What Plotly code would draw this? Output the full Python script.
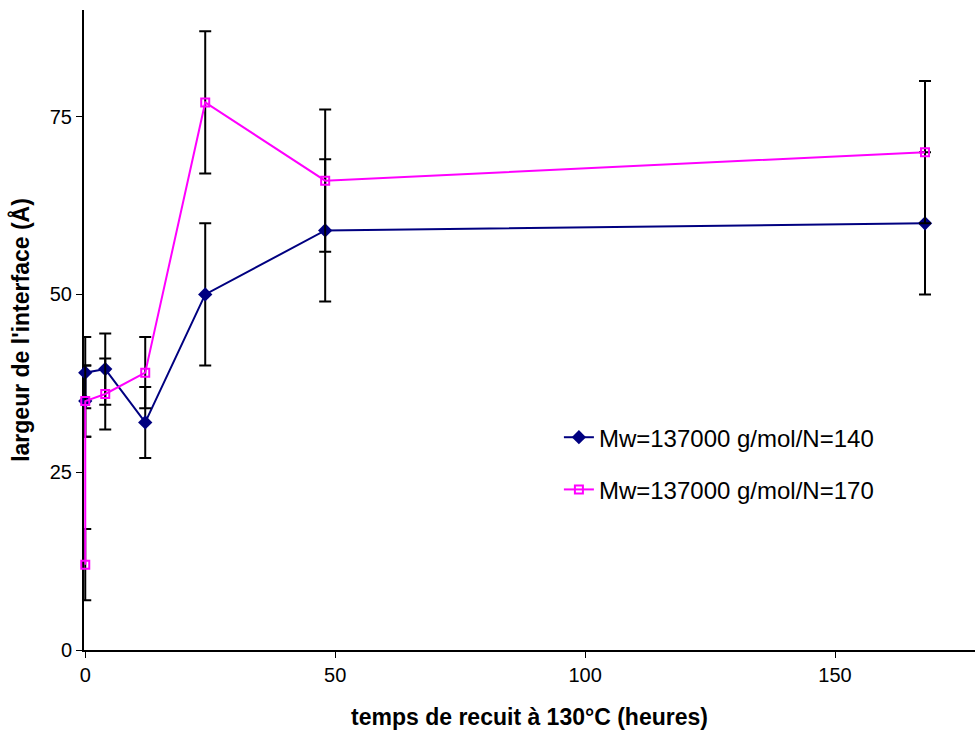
import plotly.graph_objects as go

x1 = [0, 0, 4, 12, 24, 48, 168]
y1 = [35, 39, 39.5, 32, 50, 59, 60]
e1 = [5, 5, 5, 5, 10, 10, 10]

x2 = [0, 0, 4, 12, 24, 48, 168]
y2 = [12, 35, 36, 39, 77, 66, 70]
e2 = [5, 5, 5, 5, 10, 10, 10]

names = ["Mw=137000 g/mol/N=140", "Mw=137000 g/mol/N=170"]
FONT = "Arial, Liberation Sans, sans-serif"

fig = go.Figure()
fig.add_trace(go.Scatter(
    x=x1, y=y1, mode="lines+markers", name=names[0], legendgroup="a",
    line=dict(color="#000080", width=2),
    marker=dict(symbol="diamond", size=11, color="#000080"),
    error_y=dict(type="data", array=e1, color="black", thickness=2, width=6),
    cliponaxis=False,
))
fig.add_trace(go.Scatter(
    x=x2, y=y2, mode="lines+markers", name=names[1], legendgroup="b",
    line=dict(color="#FF00FF", width=2),
    marker=dict(symbol="square-open", size=8, color="#FF00FF", line=dict(width=2)),
    error_y=dict(type="data", array=e2, color="black", thickness=2, width=6),
    cliponaxis=False,
))

fig.update_layout(
    width=975, height=731,
    margin=dict(l=84, r=0, t=10, b=81, autoexpand=False),
    paper_bgcolor="white", plot_bgcolor="white",
    font=dict(family=FONT, size=20, color="black"),
    showlegend=True,
    legend=dict(x=0.533, y=0.367, xanchor="left", yanchor="top",
                font=dict(size=24), tracegroupgap=18, bgcolor="rgba(0,0,0,0)"),
    xaxis=dict(range=[-0.25, 178], tickvals=[0, 50, 100, 150], showgrid=False, zeroline=False,
               showline=True, linecolor="black", linewidth=2, ticks="outside",
               ticklen=6, tickwidth=1, tickcolor="black", tickfont=dict(size=20),
               layer="below traces",
               title=dict(text="<b>temps de recuit à 130°C (heures)</b>", font=dict(size=23), standoff=24)),
    yaxis=dict(range=[0, 90], tickvals=[0, 25, 50, 75], showgrid=False, zeroline=False,
               showline=True, linecolor="black", linewidth=2, ticks="outside",
               ticklen=6, tickwidth=1, tickcolor="black", tickfont=dict(size=20),
               layer="below traces",
               title=dict(text="<b>largeur de l'interface (Å)</b>", font=dict(size=23), standoff=14)),
)

fig.write_html("out.html", config={"displayModeBar": False},
               post_script="document.body.style.margin='0px';")
